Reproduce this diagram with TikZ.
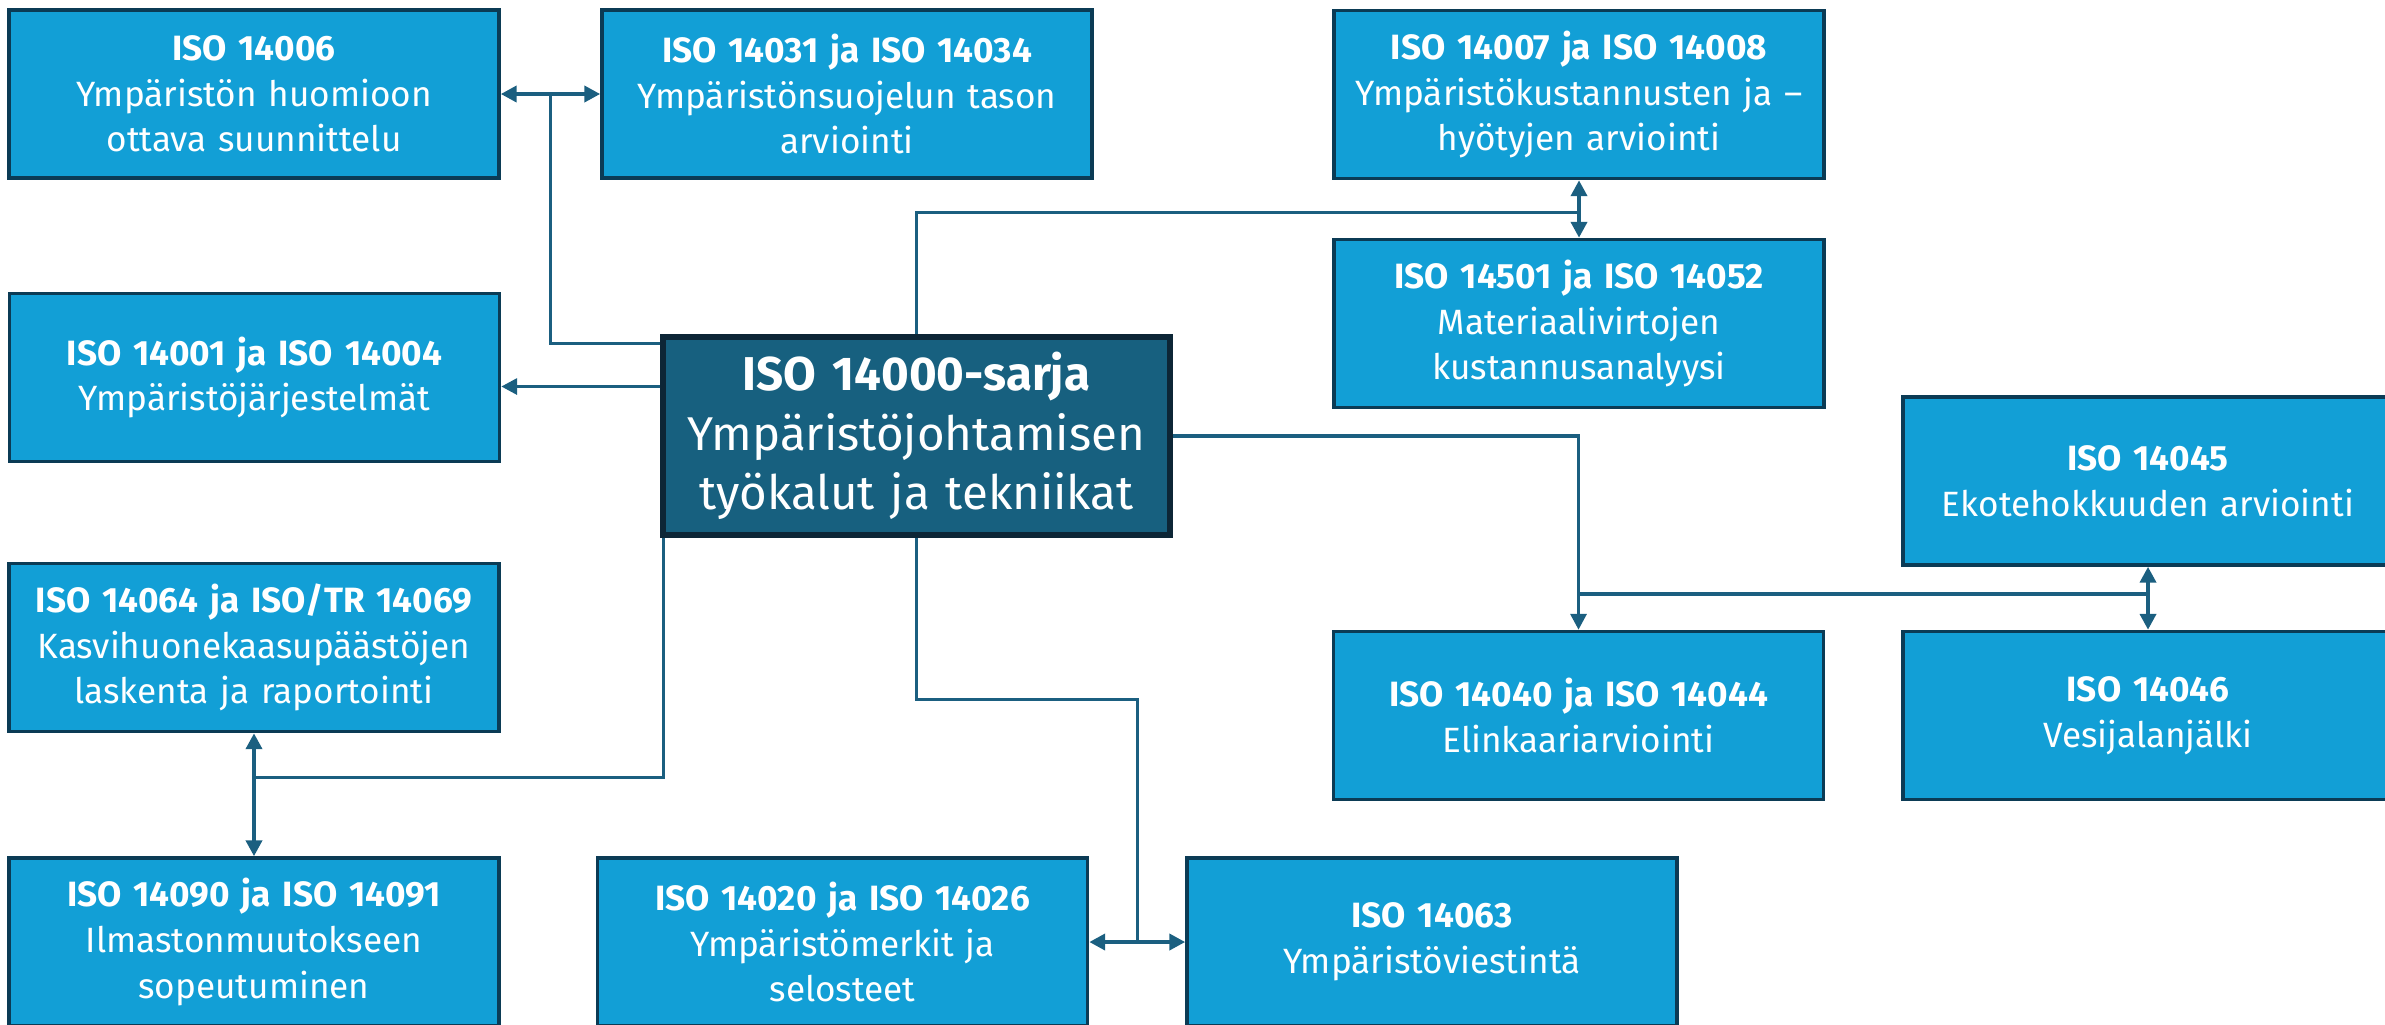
\documentclass[tikz,border=0pt]{standalone}
\usepackage{fontspec}
\setmainfont{Fira Sans}
\usetikzlibrary{arrows.meta,calc}
\definecolor{boxblue}{HTML}{129FD6}
\definecolor{boxedge}{HTML}{0B3B55}
\definecolor{hubblue}{HTML}{17607F}
\definecolor{hubedge}{HTML}{0D2636}
\definecolor{linkblue}{HTML}{1B5F80}

\begin{document}
\begin{tikzpicture}[
  box/.style={draw=boxedge, line width=1pt, fill=boxblue, text=white,
    minimum width=4.9cm, minimum height=1.68cm, text width=4.75cm,
    align=center, inner sep=0pt, font=\fontsize{10}{13}\selectfont},
  hubbox/.style={box, draw=hubedge, line width=1.5pt, fill=hubblue,
    minimum width=5.07cm, minimum height=1.98cm, text width=4.9cm,
    font=\fontsize{13.5}{17}\selectfont},
  conn/.style={draw=linkblue, line width=1pt},
  arr/.style={conn, -{Triangle[length=4.5pt,width=4.5pt]}},
  biarr/.style={conn, line width=1.2pt, {Triangle[length=4.5pt,width=4.5pt]}-{Triangle[length=4.5pt,width=4.5pt]}}
]
\useasboundingbox (0,0) rectangle (23.85,-10.24);
\clip (0,0) rectangle (23.85,-10.24);

% hub
\node[hubbox] (hub) at (9.165,-4.36) {\textbf{ISO 14000-sarja}\\ Ympäristöjohtamisen\\ työkalut ja tekniikat};

% left column
\node[box] (iso14006) at (2.54,-0.94) {\textbf{ISO 14006}\\ Ympäristön huomioon\\ ottava suunnittelu};
\node[box] (iso14031) at (8.47,-0.94) {\textbf{ISO 14031 ja ISO 14034}\\ Ympäristönsuojelun tason\\ arviointi};
\node[box] (iso14001) at (2.545,-3.775) {\textbf{ISO 14001 ja ISO 14004}\\ Ympäristöjärjestelmät};
\node[box] (iso14064) at (2.54,-6.475) {\textbf{ISO 14064 ja ISO/TR 14069}\\ Kasvihuonekaasupäästöjen\\ laskenta ja raportointi};
\node[box] (iso14090) at (2.54,-9.42) {\textbf{ISO 14090 ja ISO 14091}\\ Ilmastonmuutokseen\\ sopeutuminen};

% bottom row
\node[box] (iso14020) at (8.425,-9.42) {\textbf{ISO 14020 ja ISO 14026}\\ Ympäristömerkit ja\\ selosteet};
\node[box] (iso14063) at (14.32,-9.42) {\textbf{ISO 14063}\\ Ympäristöviestintä};

% right side
\node[box] (iso14007) at (15.79,-0.945) {\textbf{ISO 14007 ja ISO 14008}\\ Ympäristökustannusten ja –\\ hyötyjen arviointi};
\node[box] (iso14501) at (15.79,-3.235) {\textbf{ISO 14501 ja ISO 14052}\\ Materiaalivirtojen\\ kustannusanalyysi};
\node[box] (iso14045) at (21.48,-4.81) {\textbf{ISO 14045}\\ Ekotehokkuuden arviointi};
\node[box] (iso14040) at (15.785,-7.155) {\textbf{ISO 14040 ja ISO 14044}\\ Elinkaariarviointi};
\node[box] (iso14046) at (21.48,-7.155) {\textbf{ISO 14046}\\ Vesijalanjälki};

% junctions
\coordinate (j1) at ($(iso14006.east)!0.5!(iso14031.west)$);
\coordinate (j2) at ($(iso14007.south)!0.56!(iso14501.north)$);
\coordinate (j3) at ($(iso14045.south)!0.43!(iso14046.north)$);
\coordinate (j4) at ($(iso14064.south)!0.36!(iso14090.north)$);
\coordinate (j5) at ($(iso14020.east)!0.5!(iso14063.west)$);
\coordinate (sys) at ([yshift=-0.09cm]iso14001.east);

\draw[conn] ([yshift=-0.09cm]hub.north west) -| (j1);
\draw[biarr] (iso14006.east) -- (iso14031.west);
\draw[arr] (hub.west |- sys) -- (sys);

\draw[conn] (hub.north) |- (j2);
\draw[biarr] (iso14007.south) -- (iso14501.north);

\draw[arr] (hub.east) -| (iso14040.north);
\draw[conn] (iso14040.north |- j3) -- (j3);
\draw[biarr] (iso14045.south) -- (iso14046.north);

\draw[conn] ([xshift=0.03cm]hub.south west) |- (j4);
\draw[biarr] (iso14064.south) -- (iso14090.north);

\draw[conn] (hub.south) -- ++(0,-1.62) -| (j5);
\draw[biarr] (iso14020.east) -- (iso14063.west);
\end{tikzpicture}
\end{document}
